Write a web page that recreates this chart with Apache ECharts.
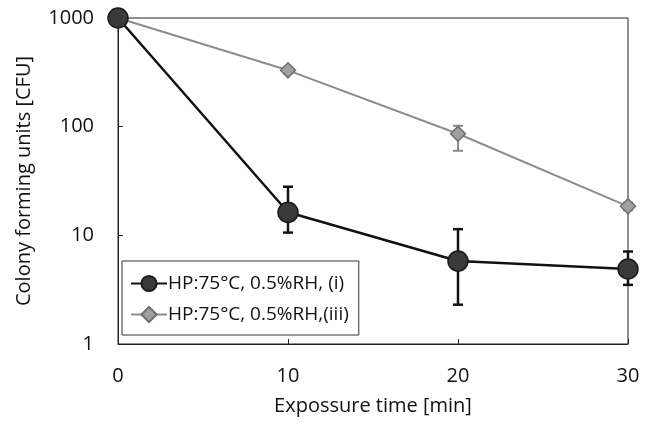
<!DOCTYPE html>
<html>
<head>
<meta charset="utf-8">
<script src="https://cdn.jsdelivr.net/npm/echarts@6/dist/echarts.min.js"></script>
<style>
  html, body { margin: 0; padding: 0; background: #fff; }
  #chart { width: 645px; height: 427px; }
</style>
</head>
<body>
<div id="chart"></div>
<script>
// exposure time [min]
const times = [0, 10, 20, 30]
const xTicks = [0, 10, 20, 30]
const yTicks = [1, 10, 100, 1000]

// HP:75°C, 0.5%RH, (i)
const seriesI = [1000, 16.3, 5.8, 4.9]
const seriesIErrLow = [1000, 10.6, 2.3, 3.5]
const seriesIErrHigh = [1000, 28, 11.4, 7.1]

// HP:75°C, 0.5%RH, (iii)
const seriesIII = [1000, 330, 86, 18.5]
const seriesIIIErrLow = [1000, 310, 60, 17]
const seriesIIIErrHigh = [1000, 350, 102, 20]

const nameI = 'HP:75°C, 0.5%RH, (i)'
const nameIII = 'HP:75°C, 0.5%RH,(iii)'

const font = '"Open Sans", sans-serif'

function pairs(xs, ys) {
  return xs.map((x, i) => [x, ys[i]])
}

function errData(xs, lo, hi) {
  return xs.map((x, i) => [x, lo[i], hi[i]])
}

// error bars drawn as custom series
function errorBar(color, width) {
  return function (params, api) {
    const x = api.value(0)
    const lo = api.coord([x, api.value(1)])
    const hi = api.coord([x, api.value(2)])
    const cap = 5
    const style = { stroke: color, lineWidth: width }
    return {
      type: 'group',
      children: [
        { type: 'line', shape: { x1: lo[0], y1: lo[1], x2: hi[0], y2: hi[1] }, style },
        { type: 'line', shape: { x1: hi[0] - cap, y1: hi[1], x2: hi[0] + cap, y2: hi[1] }, style },
        { type: 'line', shape: { x1: lo[0] - cap, y1: lo[1], x2: lo[0] + cap, y2: lo[1] }, style }
      ]
    }
  }
}

const chart = echarts.init(document.getElementById('chart'))

chart.setOption({
  animation: false,
  textStyle: { fontFamily: font },
  grid: {
    left: 118,
    top: 18,
    right: 17,
    bottom: 83,
    show: true,
    borderColor: '#222',
    borderWidth: 1
  },
  legend: {
    orient: 'vertical',
    left: 122,
    top: 261,
    padding: [13, 10, 11, 8],
    itemGap: 12,
    itemWidth: 36,
    itemHeight: 19,
    borderColor: '#333',
    borderWidth: 1,
    backgroundColor: '#fff',
    textStyle: { fontFamily: font, fontSize: 19, color: '#111', padding: [0, 0, 0, -4] },
    data: [nameI, nameIII]
  },
  xAxis: {
    type: 'value',
    min: 0,
    max: 30,
    interval: 10,
    name: 'Expossure time [min]',
    nameLocation: 'middle',
    nameGap: 52,
    nameTextStyle: { fontFamily: font, fontSize: 20, color: '#111' },
    axisLine: { lineStyle: { color: '#222', width: 1 } },
    axisTick: { inside: true, length: 5, lineStyle: { color: '#222' } },
    axisLabel: {
      fontFamily: font,
      fontSize: 20,
      color: '#111',
      margin: 22,
      formatter: v => (xTicks.includes(v) ? String(v) : '')
    },
    splitLine: { show: false }
  },
  yAxis: {
    type: 'log',
    logBase: 10,
    min: 1,
    max: 1000,
    name: 'Colony forming units [CFU]',
    nameLocation: 'middle',
    nameGap: 84,
    nameTextStyle: { fontFamily: font, fontSize: 20, color: '#111' },
    axisLine: { show: true, lineStyle: { color: '#222', width: 1 } },
    axisTick: { inside: true, length: 5, lineStyle: { color: '#222' } },
    axisLabel: {
      fontFamily: font,
      fontSize: 20,
      color: '#111',
      margin: 24,
      formatter: v => (yTicks.includes(v) ? String(v) : '')
    },
    splitLine: { show: false },
    minorTick: { show: false }
  },
  series: [
    {
      type: 'custom',
      renderItem: errorBar('#888', 2),
      data: errData(times, seriesIIIErrLow, seriesIIIErrHigh),
      z: 2
    },
    {
      type: 'custom',
      renderItem: errorBar('#111', 2.5),
      data: errData(times, seriesIErrLow, seriesIErrHigh),
      z: 2
    },
    {
      name: nameIII,
      type: 'line',
      data: pairs(times, seriesIII),
      symbol: 'diamond',
      symbolSize: 15,
      lineStyle: { color: '#8c8c8c', width: 2 },
      itemStyle: { color: '#a0a0a0', borderColor: '#6e6e6e', borderWidth: 1.5 },
      z: 3
    },
    {
      name: nameI,
      type: 'line',
      data: pairs(times, seriesI),
      symbol: 'circle',
      symbolSize: 20,
      lineStyle: { color: '#111', width: 2.5 },
      itemStyle: { color: '#3a3a3a', borderColor: '#1a1a1a', borderWidth: 1.5 },
      z: 4
    }
  ]
})

window.addEventListener('resize', () => chart.resize())
</script>
</body>
</html>
